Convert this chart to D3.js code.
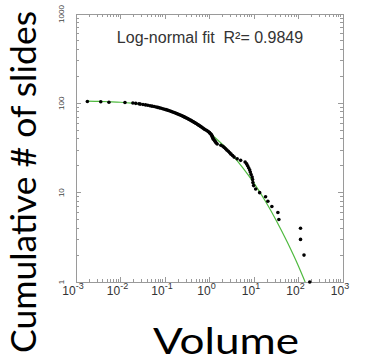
<!DOCTYPE html>
<html>
<head>
<meta charset="utf-8">
<script src="https://cdn.jsdelivr.net/npm/d3@7"></script>
<style>
  html, body { margin: 0; padding: 0; background: #fff; }
  svg { display: block; }
</style>
</head>
<body>
<div id="chart"></div>
<script>
// slide volumes, sorted from smallest to largest
const volumes = [
  0.0018, 0.0036, 0.0055, 0.0126, 0.019, 0.022, 0.026, 0.0277, 0.032, 0.0365,
  0.041, 0.046, 0.051, 0.057, 0.063, 0.069, 0.075, 0.082, 0.089, 0.097,
  0.105, 0.113, 0.121, 0.13, 0.139, 0.149, 0.16, 0.171, 0.182, 0.194,
  0.206, 0.219, 0.233, 0.247, 0.262, 0.278, 0.295, 0.312, 0.33, 0.349,
  0.37, 0.39, 0.413, 0.436, 0.46, 0.486, 0.514, 0.542, 0.571, 0.603,
  0.637, 0.671, 0.708, 0.747, 0.787, 0.85, 0.9, 0.95, 1.0, 1.04,
  1.09, 1.12, 1.14, 1.16, 1.19, 1.21, 1.26, 1.31, 1.36, 1.42,
  1.49, 1.8, 2.0, 2.15, 2.3, 2.45, 2.65, 2.85, 3.05, 3.3,
  3.58, 4.18, 5.01, 6.32, 6.83, 7.19, 7.57, 7.97, 8.26, 8.61,
  9.07, 9.3, 9.45, 9.8, 10.9, 13.4, 18.2, 20.5, 25.2, 34.4,
  36.2, 111, 111, 133, 179
];

// cumulative number of slides at or above each volume
const counts = [
  105, 104, 103, 102, 101, 100, 99, 98, 97, 96,
  95, 94, 93, 92, 91, 90, 89, 88, 87, 86,
  85, 84, 83, 82, 81, 80, 79, 78, 77, 76,
  75, 74, 73, 72, 71, 70, 69, 68, 67, 66,
  65, 64, 63, 62, 61, 60, 59, 58, 57, 56,
  55, 54, 53, 52, 51, 50, 49, 48, 47, 46,
  45, 44, 43, 42, 41, 40, 39, 38, 37, 36,
  35, 34, 33, 32, 31, 30, 29, 28, 27, 26,
  25, 24, 23, 22, 21, 20, 19, 18, 17, 16,
  15, 14, 13, 12, 11, 10, 9, 8, 7, 6,
  5, 4, 3, 2, 1
];

// log-normal fit curve
const fitVolumes = [0.0018, 0.00316, 0.00562, 0.01, 0.0178, 0.0316, 0.0562, 0.1, 0.178, 0.316,
  0.562, 1, 1.78, 3.16, 5.62, 10, 17.8, 31.6, 56.2, 100, 141];
const fitCounts = [105.6, 105.0, 104.1, 102.9, 100.6, 97.1, 92.1, 85.5, 77.3, 67.7,
  57.3, 46.5, 36.2, 26.9, 19.0, 12.8, 8.11, 4.89, 2.78, 1.50, 1.00];

const xTickExps = [-3, -2, -1, 0, 1, 2, 3];
const yTicks = [1, 10, 100, 1000];
const title = "Log-normal fit  R\u00b2= 0.9849";
const xTitle = "Volume";
const yTitle = "Cumulative # of slides";

// dimensions
const W = 366, H = 361;
const margin = { top: 14, right: 23, bottom: 79, left: 76 };
const width = W - margin.left - margin.right,
      height = H - margin.top - margin.bottom;

const svg = d3.select("#chart")
  .append("svg")
    .attr("width", W)
    .attr("height", H);

const g = svg.append("g")
  .attr("transform", `translate(${margin.left},${margin.top})`);

// scales
const x = d3.scaleLog().domain([1e-3, 1e3]).range([0, width]);
const y = d3.scaleLog().domain([1, 1000]).range([height, 0]);

const axisColor = "#9a9a9a";

// minor + major tick values
const xMinor = [];
for (let e = -3; e < 3; e++) for (let m = 2; m <= 9; m++) xMinor.push(m * Math.pow(10, e));
const yMinor = [];
for (let e = 0; e < 3; e++) for (let m = 2; m <= 9; m++) yMinor.push(m * Math.pow(10, e));
const xMajor = xTickExps.map(e => Math.pow(10, e));

// ticks pointing inward on all four sides
function ticks(sel, vals, len, side) {
  sel.selectAll(null)
    .data(vals)
    .enter()
    .append("line")
      .attr("x1", d => side === "bottom" || side === "top" ? x(d) : (side === "left" ? 0 : width))
      .attr("x2", d => side === "bottom" || side === "top" ? x(d) : (side === "left" ? len : width - len))
      .attr("y1", d => side === "left" || side === "right" ? y(d) : (side === "bottom" ? height : 0))
      .attr("y2", d => side === "left" || side === "right" ? y(d) : (side === "bottom" ? height - len : len))
      .attr("stroke", axisColor)
      .attr("stroke-width", 1);
}
const tickG = g.append("g").attr("shape-rendering", "crispEdges");
["bottom", "top"].forEach(s => {
  ticks(tickG, xMinor, 3, s);
  ticks(tickG, xMajor, 5, s);
});
["left", "right"].forEach(s => {
  ticks(tickG, yMinor, 3, s);
  ticks(tickG, yTicks, 5, s);
});

// frame
g.append("rect")
  .attr("x", 0).attr("y", 0)
  .attr("width", width).attr("height", height)
  .attr("fill", "none")
  .attr("stroke", axisColor)
  .attr("shape-rendering", "crispEdges");

// x tick labels with superscript exponents
const xl = g.append("g")
  .attr("font-family", "Liberation Sans, Arial, sans-serif")
  .attr("fill", "#333");
xl.selectAll(null)
  .data(xTickExps)
  .enter()
  .append("text")
    .attr("x", d => x(Math.pow(10, d)) - 3)
    .attr("y", height + 13)
    .attr("text-anchor", "middle")
    .attr("font-size", "12px")
    .each(function(d) {
      const t = d3.select(this);
      t.append("tspan").text("10");
      t.append("tspan").attr("dy", -6).attr("font-size", "9px").text(d);
    });

// y tick labels, rotated
g.append("g")
  .selectAll(null)
  .data(yTicks)
  .enter()
  .append("text")
    .attr("transform", d => `translate(-12,${y(d)}) rotate(-90)`)
    .attr("text-anchor", "middle")
    .attr("font-family", "Liberation Sans, Arial, sans-serif")
    .attr("font-size", "8px")
    .attr("fill", "#444")
    .text(d => d);

// clip for data
g.append("clipPath").attr("id", "clip")
  .append("rect").attr("x", 0).attr("y", -3).attr("width", width).attr("height", height + 3);

// fit line
const fitData = fitVolumes.map((v, i) => [v, fitCounts[i]]);
g.append("path")
  .datum(fitData)
  .attr("clip-path", "url(#clip)")
  .attr("fill", "none")
  .attr("stroke", "#4fba3f")
  .attr("stroke-width", 1.2)
  .attr("d", d3.line().x(d => x(d[0])).y(d => y(d[1])).curve(d3.curveMonotoneX));

// data points
g.selectAll(null)
  .data(volumes.map((v, i) => [v, counts[i]]))
  .enter()
  .append("circle")
    .attr("cx", d => x(d[0]))
    .attr("cy", d => y(d[1]))
    .attr("r", 1.8)
    .attr("fill", "#000");

// title
g.append("text")
  .attr("x", 134)
  .attr("y", 29)
  .attr("text-anchor", "middle")
  .attr("font-family", "Liberation Sans, Arial, sans-serif")
  .attr("font-size", "16px")
  .attr("fill", "#333")
  .style("white-space", "pre")
  .text(title);

// axis titles
svg.append("text")
  .attr("x", 226)
  .attr("y", 354)
  .attr("text-anchor", "middle")
  .attr("font-family", "Lato, Open Sans, sans-serif")
  .attr("font-size", "37px")
  .attr("textLength", 146)
  .attr("lengthAdjust", "spacingAndGlyphs")
  .attr("fill", "#000")
  .text(xTitle);

svg.append("text")
  .attr("transform", "translate(36,182) rotate(-90)")
  .attr("text-anchor", "middle")
  .attr("font-family", "Lato, Open Sans, sans-serif")
  .attr("font-size", "35px")
  .attr("textLength", 342)
  .attr("lengthAdjust", "spacingAndGlyphs")
  .attr("fill", "#000")
  .text(yTitle);
</script>
</body>
</html>
